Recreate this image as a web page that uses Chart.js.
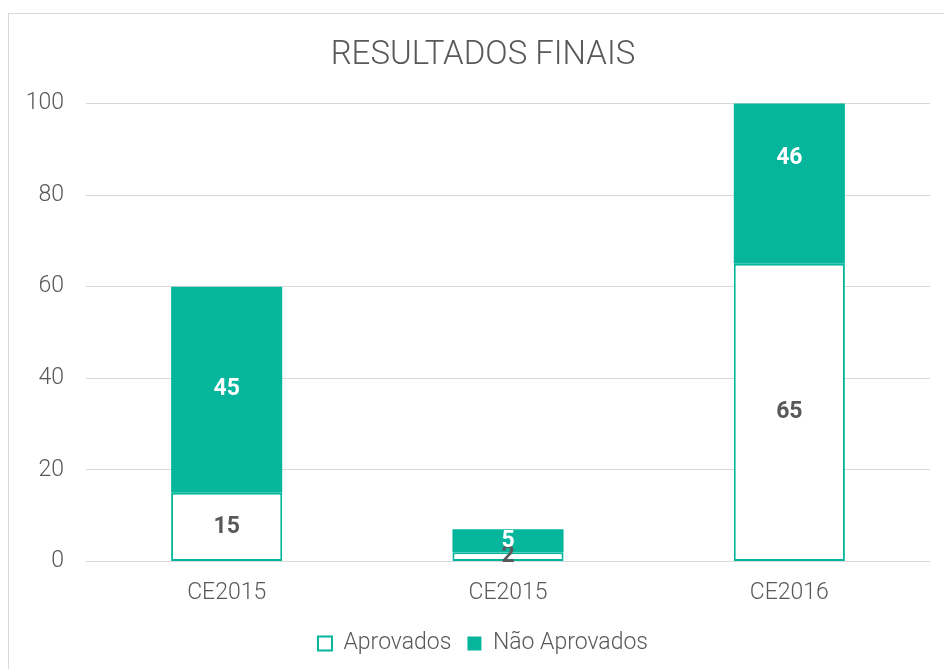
<!DOCTYPE html>
<html lang="pt">
<head>
    <meta charset="UTF-8">
    <title>Resultados Finais</title>
    <script src="https://cdn.jsdelivr.net/npm/chart.js"></script>
    <style>
        html, body {
            margin: 0;
            padding: 0;
            background: #fff;
            overflow: hidden;
        }
        .frame {
            position: absolute;
            left: 8px;
            top: 13px;
            width: 1000px;
            height: 1000px;
            border: 1px solid #d9d9d9;
        }
        .chart-box {
            position: absolute;
            left: 0;
            top: 0;
            width: 944px;
            height: 669px;
        }
    </style>
</head>
<body>
    <div class="frame"></div>
    <div class="chart-box">
        <canvas id="resultsChart"></canvas>
    </div>

    <script>
        const categories = ['CE2015', 'CE2015', 'CE2016'];
        const aprovados = [15, 2, 65];
        const naoAprovados = [45, 5, 46];
        const yTicks = [0, 20, 40, 60, 80, 100];

        const teal = '#06B69C';
        const grey = '#595959';

        // draws the value in the middle of every bar segment
        const barLabels = {
            id: 'barLabels',
            afterDatasetsDraw(chart) {
                const ctx = chart.ctx;
                ctx.save();
                ctx.font = 'bold 23px Roboto';
                ctx.textAlign = 'center';
                ctx.textBaseline = 'middle';
                chart.data.datasets.forEach((ds, i) => {
                    const meta = chart.getDatasetMeta(i);
                    meta.data.forEach((bar, j) => {
                        const c = bar.getCenterPoint();
                        ctx.fillStyle = i === 0 ? grey : '#ffffff';
                        ctx.fillText(String(ds.data[j]), c.x, c.y);
                    });
                });
                ctx.restore();
            }
        };

        // title and legend sit a little right of the plot centre in the original
        const shiftBlocks = {
            id: 'shiftBlocks',
            afterLayout(chart) {
                [chart.titleBlock, chart.legend].forEach(b => {
                    if (b) { b.left += 8; b.right += 8; }
                });
            }
        };

        const ctx = document.getElementById('resultsChart').getContext('2d');
        new Chart(ctx, {
            type: 'bar',
            data: {
                labels: categories,
                datasets: [{
                    label: 'Aprovados',
                    data: aprovados,
                    backgroundColor: '#ffffff',
                    borderColor: teal,
                    borderWidth: 2,
                    borderSkipped: false,
                    categoryPercentage: 1,
                    barPercentage: 0.395
                }, {
                    label: 'Não Aprovados',
                    data: naoAprovados,
                    backgroundColor: teal,
                    borderColor: teal,
                    borderWidth: 0,
                    categoryPercentage: 1,
                    barPercentage: 0.395
                }]
            },
            options: {
                responsive: true,
                maintainAspectRatio: false,
                animation: false,
                layout: {
                    padding: { left: 20, right: 14, top: 18, bottom: 4 }
                },
                plugins: {
                    title: {
                        display: true,
                        text: 'RESULTADOS FINAIS',
                        color: grey,
                        font: { family: 'Roboto', size: 33, weight: '300' },
                        padding: { top: 18, bottom: 28 }
                    },
                    legend: {
                        position: 'bottom',
                        labels: {
                            color: grey,
                            font: { family: 'Roboto', size: 23, weight: '300' },
                            boxWidth: 14,
                            boxHeight: 14,
                            padding: 16
                        }
                    },
                    tooltip: { enabled: false }
                },
                scales: {
                    x: {
                        stacked: true,
                        grid: { display: false, drawTicks: false },
                        border: { display: false },
                        ticks: {
                            color: grey,
                            font: { family: 'Roboto', size: 23, weight: '300' },
                            padding: 18
                        },
                        afterFit(axis) {
                            axis.height -= 9;
                        }
                    },
                    y: {
                        stacked: true,
                        min: 0,
                        max: 100,
                        afterBuildTicks(axis) {
                            axis.ticks = yTicks.map(v => ({ value: v }));
                        },
                        afterFit(axis) {
                            axis.width = 66;
                        },
                        grid: { color: '#d9d9d9', lineWidth: 1, drawTicks: false },
                        border: { display: false },
                        ticks: {
                            color: grey,
                            font: { family: 'Roboto', size: 23, weight: '300' },
                            padding: 22
                        }
                    }
                }
            },
            plugins: [barLabels, shiftBlocks]
        });
    </script>
</body>
</html>
